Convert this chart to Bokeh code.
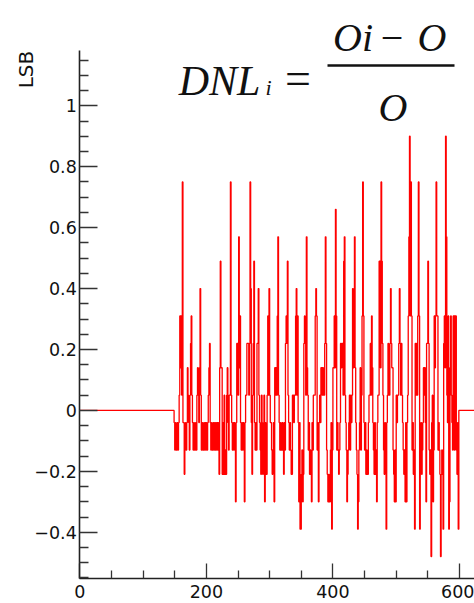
import math
from bokeh.plotting import figure
from bokeh.models import LinearAxis, FixedTicker, Range1d
from bokeh.core.properties import value
from bokeh.embed import file_html
from bokeh.resources import INLINE

# ---------------- data ----------------
n_bins = 640            # histogram bins (width 1), values are 0 outside the measured region
first_bin = 149         # first bin with a measured DNL value
dnl_values = [
    -0.04, -0.13, -0.04, -0.13, -0.13, -0.04, -0.13, -0.04, 0.05, 0.31,
    0.14, 0.31, 0.05, 0.75, -0.04, -0.04, -0.21, -0.13, -0.04, -0.13,
    -0.04, 0.14, 0.05, -0.04, -0.13, 0.05, 0.22, 0.31, 0.05, -0.04,
    -0.13, -0.04, -0.13, -0.13, -0.04, -0.13, 0.05, 0.14, 0.05, -0.04,
    0.14, 0.40, 0.05, -0.13, -0.04, -0.13, -0.13, -0.04, -0.13, -0.04,
    -0.13, -0.04, -0.13, -0.04, 0.05, 0.14, 0.22, -0.04, -0.13, -0.04,
    -0.13, -0.13, -0.04, -0.13, -0.04, -0.13, -0.04, -0.13, -0.04, -0.13,
    -0.04, -0.21, 0.14, 0.49, 0.14, 0.14, -0.21, -0.04, -0.21, 0.05,
    -0.21, -0.13, -0.21, 0.05, 0.14, -0.04, -0.13, 0.05, 0.05, 0.75,
    0.05, -0.04, -0.13, -0.04, -0.13, -0.04, -0.13, -0.30, -0.04, 0.22,
    0.22, 0.05, 0.57, 0.14, 0.31, -0.04, -0.13, -0.04, -0.13, -0.04,
    -0.13, -0.30, -0.04, 0.05, 0.05, 0.22, 0.22, 0.22, 0.05, 0.22,
    0.75, 0.40, -0.04, -0.21, 0.05, 0.22, 0.49, -0.04, -0.13, -0.04,
    -0.13, 0.22, 0.22, 0.40, 0.05, -0.04, -0.13, -0.21, 0.05, -0.04,
    -0.21, -0.13, 0.05, -0.30, -0.04, -0.21, -0.21, 0.05, 0.31, 0.05,
    0.40, 0.05, -0.04, -0.04, -0.13, -0.21, -0.13, -0.04, -0.30, 0.14,
    0.05, 0.14, 0.05, 0.31, 0.57, 0.05, -0.04, -0.13, -0.04, -0.13,
    -0.13, -0.04, -0.13, -0.21, -0.04, -0.13, 0.22, 0.31, 0.22, 0.49,
    0.05, -0.04, -0.13, -0.04, -0.13, -0.21, -0.21, 0.05, 0.05, -0.04,
    0.05, 0.05, 0.31, 0.40, 0.05, 0.31, -0.04, -0.30, -0.04, -0.39,
    -0.39, -0.21, -0.13, -0.30, -0.21, 0.22, 0.31, 0.22, 0.05, 0.57,
    0.14, 0.05, -0.13, -0.04, -0.21, -0.13, -0.21, -0.30, -0.04, -0.13,
    0.05, 0.05, 0.05, 0.31, 0.40, 0.31, -0.13, -0.04, -0.30, -0.04,
    0.05, -0.04, 0.14, 0.14, 0.05, 0.14, 0.05, 0.05, 0.22, 0.57,
    0.22, -0.13, -0.21, -0.30, -0.21, -0.30, -0.30, -0.13, -0.04, -0.39,
    -0.13, 0.14, 0.14, 0.31, 0.14, 0.66, 0.31, -0.13, -0.04, -0.13,
    -0.21, -0.13, -0.04, 0.22, 0.14, 0.22, 0.22, 0.05, 0.49, 0.57,
    0.05, -0.04, -0.13, -0.30, -0.21, -0.13, -0.04, 0.05, -0.13, 0.05,
    -0.04, 0.05, 0.40, 0.14, 0.22, 0.57, 0.14, -0.04, -0.13, -0.21,
    -0.39, -0.30, -0.13, -0.04, 0.14, -0.13, 0.05, 0.31, 0.75, 0.31,
    -0.04, -0.13, -0.04, -0.21, -0.13, -0.21, -0.21, -0.04, 0.05, 0.05,
    0.22, 0.05, 0.31, 0.14, -0.04, -0.13, -0.21, -0.04, -0.21, -0.13,
    -0.30, -0.04, 0.05, 0.05, 0.49, 0.49, 0.14, 0.75, 0.49, 0.22,
    0.05, -0.13, -0.21, -0.04, -0.13, -0.39, -0.04, 0.05, 0.22, 0.05,
    0.05, 0.22, 0.40, 0.22, 0.14, 0.14, -0.13, -0.21, -0.30, -0.13,
    -0.30, 0.05, -0.04, 0.05, 0.05, 0.22, 0.40, 0.22, 0.05, 0.22,
    0.05, -0.04, -0.13, -0.21, -0.13, -0.30, -0.04, -0.30, -0.04, 0.05,
    0.31, 0.57, 0.90, 0.31, 0.75, 0.31, -0.13, -0.04, -0.21, -0.13,
    -0.39, 0.22, 0.05, 0.22, 0.05, 0.31, 0.75, 0.31, -0.39, -0.13,
    -0.04, -0.21, -0.13, -0.04, 0.14, 0.05, 0.14, -0.04, -0.30, 0.22,
    0.22, 0.49, 0.22, -0.13, -0.21, -0.13, -0.48, -0.04, 0.05, -0.30,
    -0.13, 0.31, 0.14, 0.31, 0.75, 0.31, 0.31, -0.13, -0.04, -0.13,
    -0.21, -0.48, -0.21, -0.13, -0.21, -0.39, 0.22, 0.31, 0.14, 0.90,
    0.57, 0.05, -0.04, 0.31, -0.39, -0.30, 0.14, 0.31, 0.05, -0.04,
    -0.13, 0.31, 0.31, -0.13, 0.31, 0.31, -0.13, -0.21, -0.04, -0.39,
]

x_major_ticks = [0, 200, 400, 600]
x_minor_ticks = [50, 100, 150, 250, 300, 350, 450, 500, 550]
y_major_ticks = [-0.4, -0.2, 0, 0.2, 0.4, 0.6, 0.8, 1.0]
y_major_labels = ["\u22120.4", "\u22120.2", "0", "0.2", "0.4", "0.6", "0.8", "1"]
y_minor_ticks = [-0.55, -0.5, -0.45, -0.35, -0.3, -0.25, -0.15, -0.1, -0.05,
                 0.05, 0.1, 0.15, 0.25, 0.3, 0.35, 0.45, 0.5, 0.55,
                 0.65, 0.7, 0.75, 0.85, 0.9, 0.95, 1.05, 1.1, 1.15]
y_axis_top = 1.1815
y_axis_bottom = -0.552
y_title = "LSB"

# ---------------- layout (page pixels -> data) ----------------
W, H = 474, 603
X0_PX, SX = 79.3, 0.6328     # px of x=0, px per unit
Y0_PX, SY = 409.9, 304.6     # px of y=0, px per unit


def dx(px):
    return (px - X0_PX) / SX


def dy(py):
    return (Y0_PX - py) / SY


x_start, x_end = dx(0), dx(W)
y_start, y_end = dy(H), dy(0)

p = figure(width=W, height=H, output_backend="svg", toolbar_location=None,
           x_range=Range1d(x_start, x_end), y_range=Range1d(y_start, y_end),
           x_axis_location=None, y_axis_location=None, min_border=0,
           outline_line_color=None, background_fill_color="white",
           border_fill_color="white")
p.grid.visible = False

# ---------------- histogram ----------------
vals = [0.0] * first_bin + dnl_values
vals = vals + [0.0] * (n_bins - len(vals))
edges = list(range(n_bins + 1))
p.step(edges, vals + [vals[-1]], mode="after", line_color="#ff0000", line_width=1.3)

# ---------------- axes ----------------
AX_COLOR = "#222222"
xaxis = LinearAxis(fixed_location=y_axis_bottom, bounds=(0, x_end),
                   ticker=FixedTicker(ticks=x_major_ticks, minor_ticks=x_minor_ticks))
yaxis = LinearAxis(fixed_location=0, bounds=(y_axis_bottom, y_axis_top),
                   ticker=FixedTicker(ticks=y_major_ticks, minor_ticks=y_minor_ticks),
                   major_label_overrides=dict(zip(y_major_ticks, y_major_labels)))
for ax in (xaxis, yaxis):
    ax.axis_line_color = AX_COLOR
    ax.axis_line_width = 1.6
    ax.major_tick_line_color = "#333333"
    ax.minor_tick_line_color = "#333333"
    ax.major_tick_line_width = 1.3
    ax.minor_tick_line_width = 1.3
    ax.major_tick_out = 0
    ax.minor_tick_out = 0
    ax.major_label_text_font = "DejaVu Sans"
    ax.major_label_text_font_size = "17.5px"
    ax.major_label_text_color = "#111111"
xaxis.major_tick_in = 15
xaxis.minor_tick_in = 8
xaxis.major_label_standoff = 6
yaxis.major_tick_in = 18
yaxis.minor_tick_in = 9
yaxis.major_label_standoff = 3
p.add_layout(xaxis, "below")
p.add_layout(yaxis, "left")

# y title (ROOT style, at the top end of the axis)
p.text(x=[dx(25.5)], y=[dy(69)], text=[y_title], angle=math.pi / 2,
       text_font=value("DejaVu Sans"), text_font_size=value("20px"),
       text_align="center", text_baseline="middle", text_color="#111111")

# ---------------- formula ----------------
SERIF = value("Liberation Serif")
INK = "#111111"
p.text(x=[dx(219)], y=[dy(80)], text=["DNL"], text_font=SERIF, text_font_style="italic",
       text_font_size=value("42px"), text_align="center", text_baseline="alphabetic", text_color=INK)
p.text(x=[dx(268)], y=[dy(87)], text=["i"], text_font=SERIF, text_font_style="italic",
       text_font_size=value("22px"), text_align="center", text_baseline="alphabetic", text_color=INK)
p.text(x=[dx(297.5)], y=[dy(78)], text=["="], text_font=SERIF,
       text_font_size=value("46px"), text_align="center", text_baseline="alphabetic", text_color=INK)
p.text(x=[dx(352.5), dx(431.5)], y=[dy(37), dy(37)], text=["Oi", "O"], text_font=SERIF,
       text_font_style="italic", text_font_size=value("40px"), text_align="center",
       text_baseline="alphabetic", text_color=INK)
p.text(x=[dx(391.5)], y=[dy(37)], text=["\u2212"], text_font=SERIF,
       text_font_size=value("40px"), text_align="center", text_baseline="alphabetic", text_color=INK)
p.text(x=[dx(392.5)], y=[dy(107)], text=["O"], text_font=SERIF, text_font_style="italic",
       text_font_size=value("40px"), text_align="center", text_baseline="alphabetic", text_color=INK)
p.segment(x0=[dx(327)], y0=[dy(65)], x1=[dx(454)], y1=[dy(65)], line_color=INK, line_width=2.6)

open("out.html", "w").write(file_html(p, INLINE))
